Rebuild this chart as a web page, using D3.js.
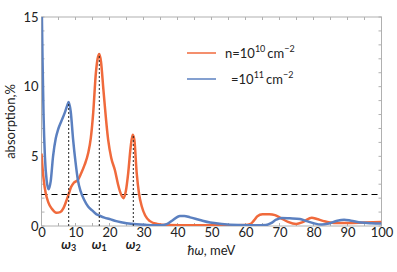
<!DOCTYPE html>
<html><head><meta charset="utf-8">
<script src="https://cdn.jsdelivr.net/npm/d3@7"></script>
<style>body{margin:0;background:#fff}svg{display:block}text{font-family:Lato,"Open Sans",sans-serif;fill:#222}</style>
</head><body><svg id="c" width="397" height="272"></svg>
<script>
const xTicks=[0,10,20,30,40,50,60,70,80,90,100];
const yTicks=[0,5,10,15];
const orangeX=[0,0.3,0.7,1.2,2,3,4.4,5.5,6.5,7.3,8,8.7,9.5,10.7,11.7,12.7,13.7,14.5,15.2,16,16.5,17,17.5,18.2,19.6,20.5,21.6,22.5,23.1,24.1,24.8,25.5,26.2,26.8,27.3,28,28.7,29.5,30.5,31.9,34,37,45,55,60,61.5,62.5,63.5,65,67,68.7,70.5,72.5,74.9,77,79.5,81,83,86,90,95,100];
const orangeY=[5.2,4.2,3.2,2.4,1.7,1.25,0.95,1.0,1.3,1.8,2.3,2.8,3.1,3.3,3.8,4.4,5.2,6.3,8.1,11,12,12.35,11.8,9.8,6.2,4.9,4.0,3.0,2.46,2.0,2.5,3.8,5.6,6.55,6.2,3.8,2.3,1.4,0.75,0.35,0.15,0.07,0.05,0.05,0.07,0.15,0.4,0.7,0.84,0.85,0.78,0.55,0.3,0.15,0.3,0.6,0.5,0.35,0.22,0.22,0.25,0.28];
const blueX=[0,0.3,0.6,1.0,1.5,2.1,2.7,3.4,4.2,4.85,5.8,6.8,7.5,8.0,8.6,9.3,10,10.7,11.5,12.5,13.7,15,16.1,17,18.5,20,22,25,28,31,35,37,38.5,40.7,42,43.7,46.6,49.6,53,58,63,66,67.5,69,70.5,73,76,78,80,82.4,84.5,87,89,91,94,97,100];
const blueY=[17,12,8,5,3.3,2.63,3.2,5.0,6.3,6.9,7.5,8.1,8.6,8.9,8.2,6.2,4.6,3.3,2.5,1.9,1.4,1.1,0.85,0.75,0.6,0.5,0.35,0.2,0.12,0.08,0.05,0.15,0.4,0.72,0.72,0.62,0.43,0.25,0.15,0.07,0.05,0.07,0.2,0.45,0.58,0.55,0.5,0.35,0.2,0.1,0.18,0.38,0.45,0.38,0.25,0.2,0.18];
const threshold=2.3;
const markers=[{x:8,y:8.9,sub:"3"},{x:17,y:12.35,sub:"1"},{x:27,y:6.6,sub:"2"}];
const legend=[{label:"n=10",sup:"10",color:"#f06a3c"},{label:"=10",sup:"11",color:"#5b80c0"}];

const W=397,H=272,m={l:41.5,r:15.5,t:17,b:46};
const svg=d3.select("#c");
const x=d3.scaleLinear().domain([0,100]).range([m.l,W-m.r]);
const y=d3.scaleLinear().domain([0,15]).range([H-m.b,m.t]);
svg.append("defs").append("clipPath").attr("id","cp").append("rect")
 .attr("x",m.l).attr("y",m.t).attr("width",W-m.l-m.r).attr("height",H-m.t-m.b);

// frame
svg.append("rect").attr("x",m.l).attr("y",m.t).attr("width",W-m.l-m.r).attr("height",H-m.t-m.b)
 .attr("fill","none").attr("stroke","#b0b0b0").attr("stroke-width",1);
const xMinor=d3.range(0,101,5), yMinor=d3.range(0,16,1);
const tk=svg.append("g").attr("stroke","#b0b0b0").attr("stroke-width",1);
xMinor.forEach(v=>{
 tk.append("line").attr("x1",x(v)).attr("x2",x(v)).attr("y1",y(0)).attr("y2",y(0)-3);
 tk.append("line").attr("x1",x(v)).attr("x2",x(v)).attr("y1",y(15)).attr("y2",y(15)+3);
});
yMinor.forEach(v=>{
 tk.append("line").attr("x1",x(0)).attr("x2",x(0)+3).attr("y1",y(v)).attr("y2",y(v));
 tk.append("line").attr("x1",x(100)).attr("x2",x(100)-3).attr("y1",y(v)).attr("y2",y(v));
});
// axes labels via d3 axes
const xa=svg.append("g").attr("transform",`translate(0,${y(0)})`)
 .call(d3.axisBottom(x).tickValues(xTicks).tickSize(0).tickPadding(2));
const ya=svg.append("g").attr("transform",`translate(${x(0)},0)`)
 .call(d3.axisLeft(y).tickValues(yTicks).tickSize(0).tickPadding(3));
[xa,ya].forEach(g=>{g.select(".domain").remove();g.selectAll("text").attr("font-size",13).attr("fill","#222").attr("font-family","Lato,'Open Sans',sans-serif");});

// dashed threshold
const ty=Math.round(y(threshold))+0.5;
svg.append("line").attr("x1",x(0)).attr("x2",x(100)).attr("y1",ty).attr("y2",ty)
 .attr("stroke","#000").attr("stroke-width",1.1).attr("stroke-dasharray","6,4");

// curves
const line=d3.line().x(d=>x(d[0])).y(d=>y(d[1])).curve(d3.curveMonotoneX);
const g=svg.append("g").attr("clip-path","url(#cp)");
g.append("path").attr("d",line(orangeX.map((v,i)=>[v,orangeY[i]]))).attr("fill","none").attr("stroke",legend[0].color).attr("stroke-width",2.5);
g.append("path").attr("d",line(blueX.map((v,i)=>[v,blueY[i]]))).attr("fill","none").attr("stroke",legend[1].color).attr("stroke-width",2.5);

// marker lines
markers.forEach(d=>{
 svg.append("line").attr("x1",x(d.x)).attr("x2",x(d.x)).attr("y1",y(0)).attr("y2",y(d.y))
  .attr("stroke","#222").attr("stroke-width",1).attr("stroke-dasharray","2,2");
 const t=svg.append("text").attr("x",x(d.x)).attr("y",y(0)+23).attr("text-anchor","middle")
  .attr("font-size",13).attr("font-weight","bold").attr("font-family","'DejaVu Serif',serif");
 t.append("tspan").attr("font-style","italic").text("ω");
 t.append("tspan").attr("font-size",9).attr("dy",2).text(d.sub);
});

// axis titles
const xt=svg.append("text").attr("x",(x(0)+x(100))/2).attr("y",y(0)+29).attr("text-anchor","middle").attr("font-size",13);
xt.append("tspan").attr("font-style","italic").text("ħω");
xt.append("tspan").text(", meV");
svg.append("text").attr("transform",`translate(15,${(y(0)+y(15))/2}) rotate(-90)`).attr("text-anchor","middle").attr("font-size",13).text("absorption,%");

// legend
legend.forEach((d,i)=>{
 const ly=53+i*26;
 svg.append("line").attr("x1",187).attr("x2",216).attr("y1",ly).attr("y2",ly).attr("stroke",d.color).attr("stroke-width",1.5);
 const t=svg.append("text").attr("x",i==0?225:231).attr("y",ly+5).attr("font-size",13);
 t.append("tspan").text(d.label);
 t.append("tspan").attr("font-size",9).attr("dy",-6).text(d.sup);
 t.append("tspan").attr("dy",6).attr("dx",2).text("cm");
 t.append("tspan").attr("font-size",9).attr("dy",-6).text("−2");
});
</script></body></html>
